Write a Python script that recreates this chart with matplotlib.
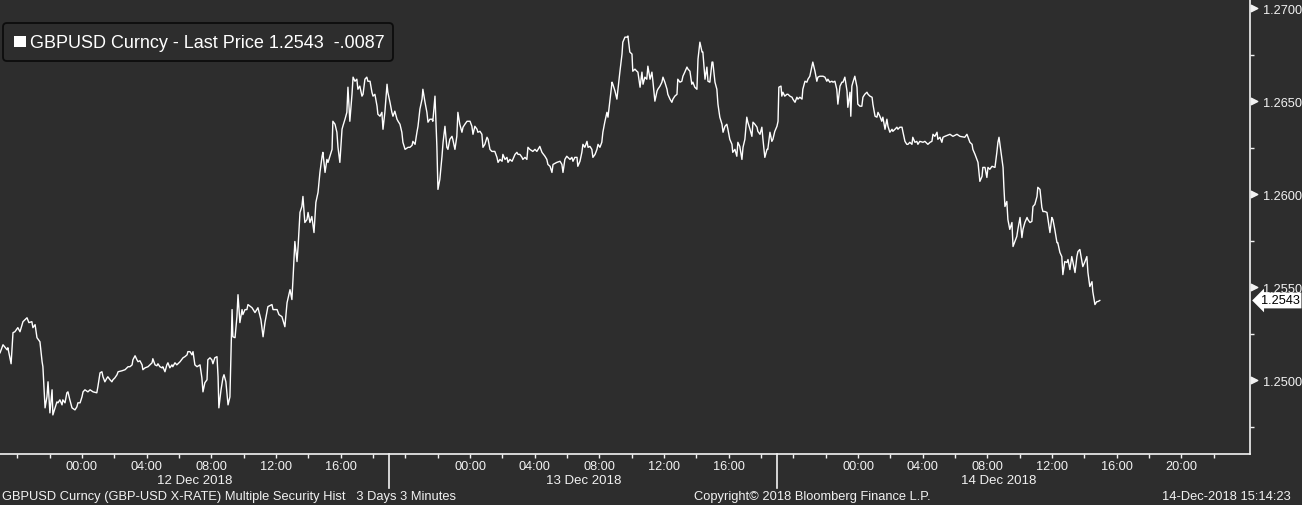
import numpy as np
import matplotlib.pyplot as plt
from matplotlib.patches import FancyBboxPatch, Rectangle
from matplotlib.lines import Line2D
from matplotlib.transforms import blended_transform_factory, IdentityTransform

BG = '#2d2d2d'
FG = '#f2f2f2'
FONT = ['Liberation Sans', 'DejaVu Sans']

# GBPUSD 3-minute closes, minutes relative to 12 Dec 2018 00:00
# 11 Dec evening -> 12 Dec morning
mins_a = [-304, -293, -278, -275, -263, -256, -249, -238, -230, -219,
          -204, -197, -186, -182, -174, -167, -156, -148, -145, -137,
          -130, -126, -119, -111, -108, -100, -93, -89, -82, -74,
          -71, -63, -56, -52, -45, -37, -26, -19, -15, -7,
          0, 4, 11, 22, 30, 41, 55, 59, 67, 74,
          78, 85, 93, 96, 104, 111, 115, 122, 130, 134,
          148, 160, 167, 171, 178, 186, 189, 197, 204, 208,
          215, 223, 226, 234, 245, 260, 263, 271, 278, 282,
          289, 297, 300, 308, 315, 319, 326, 334, 337, 345,
          352, 364, 375, 382, 390, 393, 401, 408, 412, 419,
          427, 438, 445, 449, 456, 464, 467, 475, 482, 486,
          493, 501, 505, 508, 516, 523, 527, 534, 542, 549,
          557, 560, 568, 575, 579, 586, 594, 597, 605]
px_a = [1.25149, 1.25192, 1.25165, 1.25176, 1.25090, 1.25257, 1.25262, 1.25284, 1.25262, 1.25316,
        1.25337, 1.25311, 1.25316, 1.25284, 1.25300, 1.25230, 1.25208, 1.25101, 1.25074, 1.24853,
        1.24912, 1.24993, 1.24826, 1.24950, 1.24815, 1.24853, 1.24885, 1.24880, 1.24896, 1.24869,
        1.24896, 1.24880, 1.24934, 1.24939, 1.24896, 1.24853, 1.24842, 1.24858, 1.24880, 1.24880,
        1.24912, 1.24939, 1.24950, 1.24939, 1.24950, 1.24939, 1.24934, 1.24966, 1.25041, 1.25047,
        1.25020, 1.24993, 1.25014, 1.25020, 1.25004, 1.24993, 1.25004, 1.25014, 1.25031, 1.25047,
        1.25052, 1.25058, 1.25068, 1.25074, 1.25074, 1.25084, 1.25111, 1.25133, 1.25111, 1.25101,
        1.25106, 1.25084, 1.25058, 1.25068, 1.25074, 1.25095, 1.25117, 1.25084, 1.25079, 1.25090,
        1.25074, 1.25068, 1.25074, 1.25047, 1.25084, 1.25095, 1.25068, 1.25084, 1.25074, 1.25095,
        1.25084, 1.25101, 1.25122, 1.25128, 1.25138, 1.25155, 1.25155, 1.25138, 1.25155, 1.25084,
        1.25074, 1.25084, 1.25014, 1.24939, 1.24988, 1.25004, 1.25111, 1.25122, 1.25111, 1.25090,
        1.25122, 1.25128, 1.25020, 1.24853, 1.24950, 1.25014, 1.25031, 1.24993, 1.24869, 1.24912,
        1.25381, 1.25235, 1.25230, 1.25343, 1.25461, 1.25311, 1.25381, 1.25354, 1.25381]

# 12 Dec 10:00 -> 13 Dec 00:00
mins_b = [612, 616, 631, 642, 653, 664, 672, 679, 686, 690,
          705, 709, 724, 731, 742, 753, 761, 772, 779, 783,
          790, 798, 802, 809, 816, 820, 827, 835, 839, 846,
          853, 861, 868, 876, 883, 891, 894, 902, 909, 913,
          920, 928, 931, 939, 946, 950, 957, 965, 968, 976,
          983, 987, 994, 1002, 1006, 1013, 1020, 1024, 1031, 1039,
          1043, 1050, 1057, 1061, 1069, 1076, 1080, 1087, 1095, 1098,
          1106, 1113, 1117, 1124, 1132, 1135, 1143, 1150, 1154, 1161,
          1169, 1173, 1180, 1187, 1191, 1199, 1210, 1217, 1225, 1228,
          1236, 1243, 1247, 1254, 1262, 1265, 1273, 1280, 1284, 1291,
          1299, 1302, 1310, 1317, 1321, 1328, 1336, 1340, 1347, 1354,
          1358, 1365, 1373, 1376, 1384, 1391, 1395, 1402]
px_b = [1.25381, 1.25408, 1.25391, 1.25365, 1.25391, 1.25327, 1.25235, 1.25311, 1.25365, 1.25397,
        1.25408, 1.25381, 1.25381, 1.25354, 1.25343, 1.25289, 1.25418, 1.25488, 1.25435, 1.25542,
        1.25747, 1.25639, 1.25720, 1.25903, 1.25935, 1.25989, 1.25849, 1.25865, 1.25903, 1.25849,
        1.25881, 1.25795, 1.25957, 1.26011, 1.26118, 1.26205, 1.26226, 1.26118, 1.26188, 1.26172,
        1.26205, 1.26242, 1.26393, 1.26377, 1.26334, 1.26253, 1.26172, 1.26350, 1.26366, 1.26404,
        1.26441, 1.26576, 1.26393, 1.26538, 1.26630, 1.26608, 1.26619, 1.26565, 1.26582, 1.26528,
        1.26538, 1.26619, 1.26630, 1.26608, 1.26608, 1.26549, 1.26528, 1.26538, 1.26474, 1.26431,
        1.26420, 1.26441, 1.26350, 1.26441, 1.26592, 1.26549, 1.26495, 1.26441, 1.26420, 1.26447,
        1.26404, 1.26393, 1.26377, 1.26334, 1.26280, 1.26242, 1.26253, 1.26253, 1.26264, 1.26285,
        1.26269, 1.26334, 1.26366, 1.26458, 1.26512, 1.26565, 1.26495, 1.26441, 1.26388, 1.26404,
        1.26404, 1.26393, 1.26528, 1.26258, 1.26027, 1.26081, 1.26205, 1.26280, 1.26366, 1.26253,
        1.26242, 1.26296, 1.26312, 1.26296, 1.26242, 1.26312, 1.26441, 1.26377]

# 13 Dec 00:00 -> 13 Dec 17:30
mins_c = [1410, 1414, 1421, 1429, 1440, 1447, 1451, 1458, 1466, 1469,
          1477, 1484, 1488, 1495, 1503, 1507, 1514, 1521, 1532, 1540,
          1544, 1551, 1559, 1562, 1570, 1577, 1581, 1588, 1596, 1599,
          1607, 1614, 1618, 1625, 1633, 1636, 1644, 1651, 1655, 1662,
          1673, 1681, 1688, 1699, 1707, 1718, 1725, 1729, 1737, 1744,
          1748, 1762, 1774, 1781, 1785, 1792, 1799, 1811, 1818, 1822,
          1829, 1837, 1840, 1848, 1855, 1859, 1866, 1874, 1878, 1885,
          1892, 1896, 1904, 1911, 1915, 1922, 1929, 1933, 1940, 1948,
          1952, 1959, 1967, 1970, 1978, 1985, 1989, 1996, 2004, 2007,
          2015, 2022, 2026, 2033, 2041, 2044, 2052, 2059, 2063, 2071,
          2078, 2082, 2089, 2096, 2100, 2108, 2115, 2119, 2126, 2134,
          2137, 2145, 2152, 2156, 2163, 2171, 2174, 2182, 2189, 2193,
          2200, 2208, 2211, 2219, 2226, 2230, 2237, 2245, 2249, 2256,
          2263, 2267, 2274, 2282, 2286, 2293, 2301, 2304, 2312, 2319,
          2323, 2330, 2338, 2341, 2349, 2356, 2360, 2367, 2375, 2379,
          2386, 2393, 2397, 2404, 2412, 2415, 2423, 2430, 2434, 2441,
          2449, 2453, 2460, 2467, 2471, 2479]
px_c = [1.26334, 1.26361, 1.26377, 1.26393, 1.26393, 1.26366, 1.26323, 1.26366, 1.26350, 1.26334,
        1.26339, 1.26323, 1.26253, 1.26269, 1.26307, 1.26296, 1.26242, 1.26231, 1.26231, 1.26199,
        1.26172, 1.26188, 1.26178, 1.26215, 1.26188, 1.26199, 1.26172, 1.26188, 1.26178, 1.26188,
        1.26215, 1.26226, 1.26215, 1.26215, 1.26199, 1.26188, 1.26199, 1.26188, 1.26253, 1.26242,
        1.26231, 1.26242, 1.26231, 1.26258, 1.26226, 1.26205, 1.26188, 1.26161, 1.26151, 1.26118,
        1.26161, 1.26172, 1.26178, 1.26161, 1.26118, 1.26188, 1.26205, 1.26188, 1.26199, 1.26178,
        1.26199, 1.26199, 1.26151, 1.26178, 1.26226, 1.26269, 1.26253, 1.26285, 1.26253, 1.26258,
        1.26242, 1.26199, 1.26215, 1.26242, 1.26269, 1.26253, 1.26280, 1.26334, 1.26388, 1.26441,
        1.26415, 1.26501, 1.26603, 1.26592, 1.26555, 1.26512, 1.26565, 1.26657, 1.26754, 1.26818,
        1.26845, 1.26845, 1.26851, 1.26765, 1.26754, 1.26662, 1.26673, 1.26662, 1.26657, 1.26576,
        1.26657, 1.26592, 1.26630, 1.26619, 1.26689, 1.26619, 1.26657, 1.26603, 1.26501, 1.26555,
        1.26565, 1.26582, 1.26603, 1.26630, 1.26603, 1.26565, 1.26538, 1.26512, 1.26495, 1.26512,
        1.26528, 1.26538, 1.26619, 1.26603, 1.26608, 1.26635, 1.26657, 1.26684, 1.26673, 1.26662,
        1.26592, 1.26603, 1.26576, 1.26565, 1.26727, 1.26818, 1.26765, 1.26765, 1.26619, 1.26684,
        1.26608, 1.26603, 1.26711, 1.26711, 1.26603, 1.26565, 1.26485, 1.26415, 1.26377, 1.26334,
        1.26366, 1.26377, 1.26350, 1.26296, 1.26269, 1.26226, 1.26242, 1.26205, 1.26280, 1.26258,
        1.26188, 1.26253, 1.26296, 1.26415, 1.26388, 1.26350]

# 13 Dec 17:30 -> 14 Dec 15:00
mins_d = [2486, 2490, 2497, 2505, 2508, 2516, 2523, 2527, 2534, 2542,
          2545, 2553, 2560, 2564, 2571, 2579, 2583, 2586, 2594, 2597,
          2601, 2608, 2616, 2620, 2627, 2635, 2638, 2646, 2653, 2657,
          2664, 2672, 2675, 2683, 2690, 2694, 2701, 2709, 2712, 2720,
          2727, 2731, 2738, 2750, 2757, 2764, 2768, 2775, 2783, 2787,
          2794, 2801, 2805, 2813, 2820, 2824, 2831, 2839, 2842, 2850,
          2853, 2857, 2861, 2868, 2876, 2879, 2887, 2894, 2898, 2905,
          2913, 2917, 2924, 2932, 2935, 2943, 2950, 2954, 2961, 2968,
          2972, 2980, 2987, 2991, 2998, 3006, 3009, 3017, 3024, 3028,
          3035, 3043, 3046, 3054, 3061, 3065, 3072, 3080, 3083, 3091,
          3098, 3102, 3109, 3121, 3128, 3139, 3147, 3154, 3158, 3165,
          3173, 3176, 3184, 3191, 3195, 3202, 3221, 3232, 3247, 3258,
          3276, 3284, 3288, 3295, 3303, 3306, 3314, 3321, 3325, 3332,
          3340, 3343, 3351, 3358, 3362, 3369, 3377, 3388, 3395, 3399,
          3403, 3410, 3418, 3421, 3425, 3432, 3436, 3443, 3451, 3455,
          3462, 3469, 3473, 3481, 3488, 3492, 3499, 3507, 3510, 3518,
          3525, 3529, 3536, 3544, 3547, 3555, 3562, 3566, 3573, 3581,
          3585, 3592, 3599, 3603, 3610, 3618, 3621, 3629, 3636, 3640,
          3647, 3655, 3659, 3666, 3673, 3677, 3685, 3692, 3696, 3703,
          3711, 3714, 3722, 3729, 3733, 3740, 3748, 3751, 3759, 3766, 3770, 3777]
px_d = [1.26312, 1.26388, 1.26377, 1.26361, 1.26339, 1.26323, 1.26361, 1.26296, 1.26199, 1.26242,
        1.26242, 1.26334, 1.26285, 1.26296, 1.26339, 1.26366, 1.26393, 1.26576, 1.26582, 1.26528,
        1.26549, 1.26528, 1.26538, 1.26538, 1.26528, 1.26522, 1.26512, 1.26495, 1.26522, 1.26512,
        1.26522, 1.26512, 1.26565, 1.26608, 1.26603, 1.26619, 1.26635, 1.26689, 1.26711, 1.26662,
        1.26608, 1.26630, 1.26635, 1.26635, 1.26630, 1.26608, 1.26619, 1.26603, 1.26608, 1.26603,
        1.26608, 1.26565, 1.26485, 1.26582, 1.26603, 1.26603, 1.26630, 1.26555, 1.26468, 1.26549,
        1.26420, 1.26582, 1.26603, 1.26635, 1.26576, 1.26485, 1.26474, 1.26474, 1.26522, 1.26538,
        1.26549, 1.26538, 1.26528, 1.26522, 1.26485, 1.26420, 1.26415, 1.26441, 1.26420, 1.26393,
        1.26415, 1.26350, 1.26404, 1.26366, 1.26334, 1.26350, 1.26339, 1.26350, 1.26361, 1.26350,
        1.26361, 1.26361, 1.26339, 1.26285, 1.26269, 1.26269, 1.26280, 1.26269, 1.26307, 1.26280,
        1.26285, 1.26269, 1.26285, 1.26280, 1.26285, 1.26269, 1.26280, 1.26285, 1.26323, 1.26312,
        1.26334, 1.26296, 1.26307, 1.26280, 1.26307, 1.26312, 1.26323, 1.26312, 1.26323, 1.26312,
        1.26307, 1.26323, 1.26307, 1.26280, 1.26269, 1.26242, 1.26215, 1.26188, 1.26172, 1.26070,
        1.26097, 1.26145, 1.26145, 1.26091, 1.26145, 1.26135, 1.26151, 1.26145, 1.26226, 1.26280,
        1.26307, 1.26231, 1.26145, 1.26043, 1.25935, 1.25962, 1.25865, 1.25812, 1.25849, 1.25720,
        1.25747, 1.25774, 1.25812, 1.25876, 1.25768, 1.25812, 1.25849, 1.25876, 1.25865, 1.25849,
        1.25855, 1.25935, 1.25946, 1.25989, 1.26038, 1.26027, 1.25930, 1.25908, 1.25908, 1.25903,
        1.25865, 1.25795, 1.25876, 1.25865, 1.25812, 1.25741, 1.25741, 1.25688, 1.25666, 1.25569,
        1.25639, 1.25634, 1.25650, 1.25596, 1.25666, 1.25639, 1.25580, 1.25666, 1.25693, 1.25704,
        1.25639, 1.25612, 1.25639, 1.25666, 1.25580, 1.25505, 1.25531, 1.25478, 1.25408, 1.25424, 1.25424, 1.25430]

tick_hours = [0, 4, 8, 12, 16, 24, 28, 32, 36, 40, 48, 52, 56, 60, 64, 68]
tick_labels = ['00:00', '04:00', '08:00', '12:00', '16:00',
               '00:00', '04:00', '08:00', '12:00', '16:00',
               '00:00', '04:00', '08:00', '12:00', '16:00', '20:00']
day_breaks = [19, 43]
day_labels = ['12 Dec 2018', '13 Dec 2018', '14 Dec 2018']
day_label_hours = [7.0, 31.0, 56.7]
y_ticks = [1.2500, 1.2550, 1.2600, 1.2650, 1.2700]
last_price = 1.2543
net_change = -0.0087

minutes = np.concatenate([mins_a, mins_b, mins_c, mins_d])
price = np.concatenate([px_a, px_b, px_c, px_d])
assert len(minutes) == len(price)
hours = minutes / 60.0

W, H = 1302, 506
fig = plt.figure(figsize=(W / 100, H / 100), dpi=100, facecolor=BG)
ax = fig.add_axes([0, 51 / H, 1250 / W, 455 / H], facecolor=BG)

ax.plot(hours, price, color='white', lw=1.0)
ax.set_xlim(-5.07, 72.24)
ax.set_ylim(1.24605, 1.2705)

for side in ['left', 'top']:
    ax.spines[side].set_visible(False)
for side in ['right', 'bottom']:
    ax.spines[side].set_color(FG)
    ax.spines[side].set_linewidth(1.2)

# right hand price axis
ax.yaxis.tick_right()
ax.set_yticks(y_ticks)
ax.set_yticklabels([f'{v:.4f}' for v in y_ticks], family=FONT)
ax.set_yticks(np.arange(1.2475, 1.2705, 0.005), minor=True)
ax.tick_params(axis='y', which='major', colors=FG, labelsize=9.2, length=0, pad=9)
ax.tick_params(axis='y', which='minor', colors=FG, length=3, width=1, direction='out')
ytrans = blended_transform_factory(ax.transAxes, ax.transData)
ax.scatter([1.0035] * len(y_ticks), y_ticks, marker='>', s=22, color=FG,
           transform=ytrans, clip_on=False, zorder=5)

# time axis
ax.set_xticks(tick_hours)
ax.set_xticklabels(tick_labels, family=FONT)
ax.set_xticks(np.arange(-4, 72, 2), minor=True)
ax.tick_params(axis='x', which='both', colors=FG, labelsize=9.2, length=3, width=1,
               direction='out', pad=1.5)

xtrans = blended_transform_factory(ax.transData, ax.transAxes)
for h in day_breaks:
    ax.add_line(Line2D([h, h], [0, -0.075], transform=xtrans, color=FG, lw=1.2, clip_on=False))
for h, lab in zip(day_label_hours, day_labels):
    ax.text(h, -0.057, lab, transform=xtrans, ha='center', va='center', color=FG,
            fontsize=9.5, family=FONT)

# last price tag
ax.text(1.0085, last_price, f'{last_price:.4f}', transform=ytrans, ha='left', va='center',
        color='black', fontsize=9.2, family=FONT, clip_on=False,
        bbox=dict(boxstyle='larrow,pad=0.15', fc='white', ec='none'))

# legend box
fig.add_artist(FancyBboxPatch((3, H - 62), 390, 38, boxstyle='round,pad=0,rounding_size=4',
                              transform=IdentityTransform(), fc=BG, ec='#0c0c0c', lw=1.3))
fig.add_artist(Rectangle((14, H - 48), 12, 11, transform=IdentityTransform(), fc='white', ec='none'))
fig.text(30 / W, 1 - 43 / H, f'GBPUSD Curncy - Last Price {last_price:.4f}  {net_change:+.4f}'.replace('-0.', '-.'),
         va='center', ha='left', color='white', fontsize=13, family=FONT)

# footer
fy = 1 - 497 / H
fig.text(2 / W, fy, 'GBPUSD Curncy (GBP-USD X-RATE) Multiple Security Hist   3 Days 3 Minutes',
         ha='left', va='center', color=FG, fontsize=9.3, family=FONT)
fig.text(812 / W, fy, 'Copyright\u00a9 2018 Bloomberg Finance L.P.', ha='center', va='center',
         color=FG, fontsize=9.3, family=FONT)
fig.text(1291 / W, fy, '14-Dec-2018 15:14:23', ha='right', va='center', color=FG,
         fontsize=9.3, family=FONT)

fig.savefig('out.png', dpi=100, facecolor=BG)
